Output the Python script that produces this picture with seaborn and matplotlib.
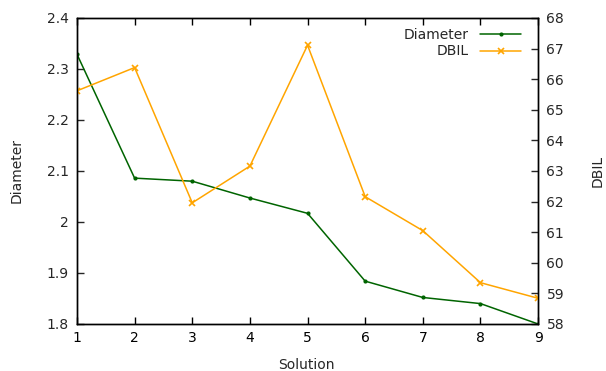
import pandas as pd
import seaborn as sns
import matplotlib
matplotlib.use('Agg')
import matplotlib.pyplot as plt
from matplotlib.ticker import FuncFormatter

solution = [1, 2, 3, 4, 5, 6, 7, 8, 9]
diameter = [2.329, 2.086, 2.080, 2.047, 2.017, 1.884, 1.852, 1.840, 1.800]
dbil = [65.62, 66.38, 61.96, 63.16, 67.11, 62.16, 61.05, 59.35, 58.84]

df = pd.DataFrame({'Solution': solution, 'Diameter': diameter, 'DBIL': dbil})

sns.set_style('white')
plt.rcParams['font.family'] = ['DejaVu Sans']
plt.rcParams['font.size'] = 10

fig = plt.figure(figsize=(6.06, 3.71), dpi=100)
ax = fig.add_axes([0.127, 0.1267, 0.761, 0.8248])
ax2 = ax.twinx()

sns.lineplot(data=df, x='Solution', y='Diameter', ax=ax, color='#006400',
             marker='o', markersize=3, markeredgewidth=0, markeredgecolor='#006400',
             linewidth=1.1, label='Diameter', legend=False)
sns.lineplot(data=df, x='Solution', y='DBIL', ax=ax2, color='#FFA500',
             marker='x', markersize=5, markeredgewidth=1.2, markeredgecolor='#FFA500',
             linewidth=1.1, label='DBIL', legend=False)

ax.set_xlim(1, 9)
ax.set_ylim(1.8, 2.4)
ax2.set_ylim(58, 68)
ax.set_xticks(solution)
ax.set_yticks([1.8, 1.9, 2.0, 2.1, 2.2, 2.3, 2.4])
ax2.set_yticks(range(58, 69))
fmt = FuncFormatter(lambda v, p: f'{v:g}')
ax.yaxis.set_major_formatter(fmt)

ax.set_xlabel('Solution', fontsize=10)
ax.set_ylabel('Diameter', fontsize=10)
ax2.set_ylabel('DBIL', fontsize=10)
for lab in (ax.xaxis.label, ax.yaxis.label, ax2.yaxis.label):
    lab.set_verticalalignment('center')
ax.xaxis.set_label_coords(0.497, -0.134)
ax.yaxis.set_label_coords(-0.130, 0.5)
ax2.yaxis.set_label_coords(1.130, 0.5)

ax.tick_params(axis='x', direction='in', top=True, bottom=True, length=5, width=1, colors='black', labelsize=10, pad=5)
ax.tick_params(axis='y', direction='in', left=True, right=False, length=5, width=1, labelsize=10, pad=6)
ax2.tick_params(axis='y', direction='in', right=True, left=False, length=5, width=1, labelsize=10, pad=6)

for a in (ax, ax2):
    for s in a.spines.values():
        s.set_visible(True)
        s.set_color('black')
        s.set_linewidth(1)

h1, l1 = ax.get_legend_handles_labels()
h2, l2 = ax2.get_legend_handles_labels()
ax2.legend(h1 + h2, l1 + l2, loc='upper right', frameon=False, markerfirst=False,
           fontsize=10, handlelength=3.0, labelspacing=0.2, borderaxespad=0.3,
           bbox_to_anchor=(0.985, 1.0))

fig.savefig('out.png', dpi=100)
